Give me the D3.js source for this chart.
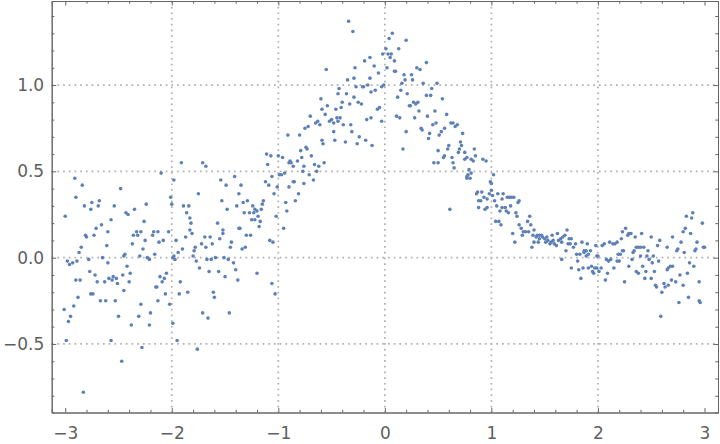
<!DOCTYPE html>
<html>
<head>
<meta charset="utf-8">
<script src="https://cdn.jsdelivr.net/npm/d3@7"></script>
<style>
  body { margin: 0; background: #fff; }
  svg text { font-family: "DejaVu Sans", sans-serif; }
</style>
</head>
<body>
<script>
// tick and grid values
const xTicks = [-3, -2, -1, 0, 1, 2, 3];
const yTicks = [-0.5, 0, 0.5, 1.0];
const xGrid = [-2, -1, 0, 1, 2];
const yGrid = [-0.5, 0, 0.5, 1.0];

// points, [x, y], grouped left to right
const farLeft = [
  [-2.91,0.46],[-2.84,0.42],[-2.90,0.35],[-2.48,0.40],[-3.00,0.24],[-2.82,0.30],[-2.76,0.28],[-2.75,0.32],
  [-2.69,0.30],[-2.68,0.33],[-2.54,0.30],[-2.43,0.26],[-2.41,0.25],[-2.35,0.28],[-2.24,0.31],[-2.71,0.17],
  [-2.66,0.19],[-2.57,0.22],[-2.26,0.21],[-2.81,0.13],[-2.80,0.12],[-2.73,0.13],[-2.60,0.15],[-2.33,0.15],
  [-2.36,0.13],[-2.32,0.13],[-2.29,0.15],[-2.17,0.15],[-2.18,0.13],[-2.13,0.15],[-2.25,0.10],[-2.12,0.09],
  [-2.37,0.08],[-2.85,0.06],[-2.61,0.07],[-2.27,0.05],[-2.87,0.03],[-2.44,0.02],[-2.45,0.01],[-2.30,0.01],
  [-2.16,0.02],[-2.23,0.00],[-2.21,-0.01],[-2.78,-0.01],[-2.65,0.00],[-2.98,-0.02],[-2.96,-0.04],[-2.93,-0.03],
  [-2.89,-0.02],[-2.60,-0.03],[-2.42,-0.05],[-2.77,-0.08],[-2.39,-0.09],[-2.72,-0.10],[-2.59,-0.12],[-2.55,-0.11],
  [-2.56,-0.13],[-2.52,-0.12],[-2.51,-0.15],[-2.46,-0.10],[-2.90,-0.13],[-2.86,-0.13],[-2.70,-0.14],[-2.63,-0.14],
  [-2.40,-0.14],[-2.45,-0.19],[-2.11,-0.11],[-2.15,-0.17],[-2.14,-0.17],[-2.76,-0.21],[-2.74,-0.21],[-2.88,-0.23],
  [-2.67,-0.25],[-2.62,-0.25],[-2.53,-0.25],[-2.13,-0.25],[-3.01,-0.30],[-2.92,-0.28],[-2.29,-0.27],[-2.95,-0.34],
  [-2.97,-0.37],[-2.50,-0.34],[-2.31,-0.34],[-2.20,-0.32],[-2.38,-0.39],[-2.21,-0.39],[-2.99,-0.48],[-2.57,-0.48],
  [-2.28,-0.52],[-2.47,-0.60],[-2.83,-0.78]
];

const leftBand = [
  [-2.10,0.49],[-1.91,0.55],[-1.71,0.55],[-1.68,0.53],[-1.11,0.60],[-1.98,0.45],[-1.54,0.45],[-1.41,0.47],
  [-1.49,0.42],[-1.35,0.42],[-1.12,0.44],[-2.01,0.35],[-1.75,0.37],[-1.37,0.37],[-2.00,0.31],[-1.89,0.30],
  [-1.84,0.30],[-1.53,0.33],[-1.33,0.32],[-1.29,0.33],[-1.39,0.30],[-1.48,0.28],[-1.14,0.33],[-1.15,0.31],
  [-1.24,0.30],[-1.16,0.28],[-1.22,0.28],[-1.20,0.27],[-1.86,0.26],[-1.32,0.26],[-1.27,0.26],[-1.23,0.26],
  [-1.19,0.24],[-1.83,0.23],[-1.82,0.20],[-1.57,0.20],[-1.25,0.22],[-1.22,0.22],[-1.17,0.21],[-1.18,0.18],
  [-1.83,0.16],[-1.37,0.17],[-1.36,0.17],[-1.52,0.16],[-1.52,0.14],[-2.03,0.15],[-1.81,0.14],[-1.87,0.12],
  [-1.69,0.12],[-1.64,0.12],[-1.55,0.11],[-1.30,0.13],[-1.26,0.13],[-2.08,0.10],[-1.96,0.10],[-1.44,0.09],
  [-1.72,0.08],[-1.62,0.08],[-1.78,0.06],[-1.68,0.06],[-1.45,0.06],[-1.34,0.05],[-1.31,0.06],[-1.90,0.05],
  [-1.79,0.04],[-1.94,0.03],[-1.80,0.01],[-1.98,0.01],[-1.99,0.00],[-1.97,-0.01],[-1.77,-0.02],[-1.67,-0.01],
  [-1.63,-0.01],[-1.59,0.00],[-1.51,0.00],[-1.47,-0.01],[-1.42,-0.03],[-1.74,-0.06],[-1.65,-0.08],[-1.56,-0.08],
  [-1.40,-0.07],[-2.05,-0.09],[-1.50,-0.11],[-1.38,-0.13],[-1.20,-0.09],[-2.07,-0.12],[-2.09,-0.14],[-1.92,-0.14],
  [-2.06,-0.21],[-1.93,-0.21],[-1.85,-0.20],[-1.61,-0.20],[-1.60,-0.23],[-2.02,-0.27],[-1.71,-0.32],[-1.66,-0.35],
  [-1.46,-0.32],[-1.99,-0.38],[-1.95,-0.48],[-1.76,-0.53]
];

const risingEdge = [
  [-1.10,0.54],[-1.09,0.42],[-1.08,0.10],[-1.05,0.09],[-1.07,0.59],[-1.00,0.59],[-0.96,0.58],[-1.06,0.47],
  [-0.99,0.48],[-0.97,0.48],[-0.94,0.49],[-0.90,0.55],[-0.89,0.56],[-0.88,0.55],[-0.86,0.53],[-0.82,0.56],
  [-0.78,0.58],[-0.79,0.62],[-0.76,0.53],[-0.77,0.50],[-0.69,0.59],[-0.74,0.64],[-0.73,0.63],[-0.91,0.71],
  [-0.80,0.71],[-0.75,0.75],[-0.72,0.76],[-0.70,0.82],[-0.65,0.78],[-0.63,0.79],[-0.61,0.77],[-0.60,0.92],
  [-0.59,0.86],[-0.56,0.83],[-0.54,0.88],[-0.44,0.95],[-0.36,0.95],[-0.29,0.93],[-0.40,0.90],[-0.41,0.87],
  [-0.46,0.86],[-0.33,0.89],[-0.25,0.90],[-0.22,0.89],[-0.13,0.96],[-0.52,0.79],[-0.50,0.80],[-0.48,0.78],
  [-0.45,0.81],[-0.44,0.79],[-0.42,0.81],[-0.39,0.77],[-0.32,0.77],[-0.48,0.73],[-0.31,0.73],[-0.17,0.80],
  [-0.13,0.81],[-0.59,0.68],[-0.58,0.66],[-0.47,0.68],[-0.37,0.67],[-0.26,0.66],[-0.24,0.70],[-0.18,0.68],
  [-0.12,0.65],[-0.57,0.55],[-0.66,0.54],[-0.62,0.53],[-0.64,0.50],[-0.71,0.48],[-0.67,0.45],[-0.76,0.43],
  [-0.86,0.44],[-0.85,0.44],[-0.90,0.41],[-0.81,0.37],[-1.04,0.37],[-1.01,0.41],[-0.93,0.32],[-0.84,0.33],
  [-0.92,0.27],[-1.02,0.24],[-0.95,0.17],[-1.06,-0.15],[-1.03,-0.21],
  [-0.34,1.37],[-0.30,1.31],[-0.55,1.09],[-0.19,1.14],[-0.28,1.10],[-0.35,1.03],[-0.29,1.04],[-0.43,0.98],
  [-0.27,0.99],[-0.21,0.99],[-0.20,0.99],[-0.16,1.00]
];

const crest = [
  [-0.14,1.16],[-0.14,1.04],[-0.10,1.11],[-0.06,1.07],[-0.02,1.18],[0.01,1.21],[0.02,1.10],[0.03,1.18],
  [0.05,1.16],[0.06,1.18],[0.04,1.27],[0.07,1.30],[0.09,1.14],[0.13,1.21],[0.20,1.26],[0.09,1.08],
  [0.10,1.08],[0.18,1.06],[0.25,1.06],[0.30,1.10],[0.33,1.09],[0.39,1.13],[0.19,1.03],[0.16,1.01],
  [0.26,1.03],[0.36,1.01],[0.49,1.01],[0.44,0.98],[0.43,0.94],[0.39,0.94],[0.15,0.97],[0.21,0.95],
  [0.12,0.93],[-0.03,0.99],[-0.01,1.00],[-0.09,0.97],[-0.07,0.86],[-0.05,0.87],[-0.03,0.79],[0.11,0.82],
  [0.14,0.81],[0.23,0.88],[0.24,0.88],[0.27,0.90],[0.29,0.89],[0.31,0.90],[0.32,0.85],[0.28,0.81],
  [0.20,0.73],[0.17,0.63],[0.40,0.82],[0.47,0.85],[0.54,0.92],[0.58,0.83],[0.45,0.77],[0.48,0.78],
  [0.34,0.75],[0.35,0.74],[0.42,0.72],[0.41,0.69],[0.51,0.71],[0.53,0.73],[0.56,0.75],[0.62,0.78],
  [0.64,0.78],[0.66,0.76],[0.68,0.77],[0.73,0.72],[0.60,0.65],[0.59,0.63],[0.50,0.62],[0.56,0.59],
  [0.55,0.58],[0.63,0.58],[0.64,0.55],[0.46,0.55],[0.50,0.55],[0.65,0.52],[0.71,0.67],[0.72,0.65],
  [0.69,0.61],[0.70,0.63],[0.75,0.61],[0.75,0.57],[0.77,0.58],[0.84,0.63],[0.85,0.59],[0.81,0.57],
  [0.83,0.56],[0.79,0.51],
  [0.78,0.48],[0.81,0.49],[0.77,0.47],[0.80,0.46],[0.77,0.46],[0.87,0.38],[0.86,0.37],[0.88,0.33],
  [0.88,0.29],[0.61,0.28]
];

const descent = [
  [0.92,0.57],[0.95,0.56],[1.02,0.48],[0.99,0.44],[1.00,0.43],[0.91,0.38],[0.90,0.33],[0.93,0.35],
  [0.96,0.34],[0.98,0.37],[1.00,0.39],[1.01,0.36],[1.06,0.37],[1.11,0.37],[1.03,0.33],[1.10,0.34],
  [1.15,0.35],[1.17,0.35],[1.19,0.35],[1.21,0.35],[1.25,0.32],[1.26,0.33],[0.94,0.28],[0.96,0.29],
  [1.05,0.30],[1.10,0.29],[1.13,0.29],[1.18,0.30],[1.08,0.27],[1.14,0.27],[1.16,0.26],[1.24,0.24],
  [1.23,0.26],[1.04,0.21],[1.07,0.21],[1.09,0.19],[1.34,0.21],[1.36,0.24],[1.37,0.19],[1.26,0.19],
  [1.28,0.17],[1.30,0.15],[1.32,0.15],[1.35,0.15],[1.29,0.13],[1.40,0.16],[1.20,0.14],[1.22,0.09],
  [1.39,0.13],[1.42,0.12],[1.43,0.13],[1.45,0.13],[1.47,0.13],[1.48,0.12],[1.45,0.11],[1.50,0.11],
  [1.52,0.12],[1.53,0.10],[1.51,0.09],[1.56,0.09],[1.57,0.13],[1.58,0.10],[1.40,0.09],[1.44,0.09],
  [1.38,0.06],[1.55,0.08],[1.59,0.08],[1.61,0.07],[1.62,0.14],[1.63,0.10],[1.65,0.11],[1.67,0.12],
  [1.69,0.13],[1.71,0.16],[1.66,0.09],[1.72,0.08],[1.73,0.11],[1.75,0.11],[1.74,0.08],[1.77,0.06],
  [1.79,0.08],[1.85,0.09],[1.87,0.03],[1.70,0.04],[1.80,0.02],[1.83,0.02],[1.66,-0.01],[1.81,-0.02],
  [1.86,-0.06],[1.75,-0.06],[1.82,-0.07],[1.84,-0.12]
];

const rightTail = [
  [1.90,0.08],[1.87,0.04],[1.89,0.04],[1.93,0.04],[1.91,0.02],[1.89,0.01],[1.98,0.07],[1.99,0.01],
  [2.00,0.01],[1.91,-0.06],[1.94,-0.05],[1.95,-0.08],[1.97,-0.06],[1.99,-0.06],[2.01,-0.08],[2.03,-0.06],
  [1.96,-0.09],[2.04,0.07],[2.06,0.08],[2.07,-0.13],[2.09,-0.09],[2.08,-0.01],[2.10,-0.02],[2.12,-0.01],
  [2.11,0.09],[2.14,0.08],[2.16,0.08],[2.18,0.09],[2.15,-0.06],[2.18,-0.02],[2.20,-0.02],[2.19,0.02],
  [2.21,0.02],[2.23,0.04],[2.24,0.04],[2.22,0.11],[2.23,0.15],[2.26,0.17],[2.28,0.13],[2.29,0.14],
  [2.31,0.14],[2.25,-0.14],[2.29,-0.05],[2.32,-0.01],[2.33,0.03],[2.34,0.04],[2.36,0.06],[2.38,0.06],
  [2.40,0.06],[2.35,0.12],[2.41,0.14],[2.36,-0.08],[2.38,-0.09],[2.40,0.01],[2.42,-0.05],[2.43,0.06],
  [2.44,-0.12],[2.45,-0.08],[2.46,0.01],[2.47,0.04],[2.48,-0.01],[2.50,-0.12],[2.50,0.12],[2.51,-0.03],
  [2.52,0.01],[2.53,-0.08],[2.56,0.07],[2.57,-0.02],[2.58,0.10],[2.54,-0.16],[2.55,-0.17],[2.60,-0.20],
  [2.59,-0.34],[2.62,-0.15],[2.63,-0.17],[2.66,-0.16],[2.65,-0.07],[2.66,-0.06],[2.68,-0.05],[2.70,-0.05],
  [2.65,0.06],[2.70,0.12],[2.69,-0.13],[2.73,-0.14],[2.74,0.04],[2.75,0.05],[2.78,0.09],[2.76,-0.26],
  [2.77,-0.10],[2.80,-0.16],[2.80,0.15],[2.82,0.17],[2.81,0.03],[2.83,0.24],[2.85,-0.23],[2.84,-0.09],
  [2.87,0.14],[2.88,0.23],[2.89,0.26],[2.86,-0.03],[2.90,-0.05],[2.91,0.04],[2.92,0.05],[2.93,0.09],
  [2.95,-0.14],[2.95,-0.25],[2.96,-0.26],[2.98,0.20],[2.99,0.06],[3.00,0.06]
];

const allPoints = farLeft.concat(leftBand, risingEdge, crest, descent, rightTail);

var width = 720,
    height = 444;
var plotLeft = 51.7, plotRight = 718, plotTop = 1, plotBottom = 412.5;

var x = d3.scaleLinear().domain([-3.127, 3.127]).range([plotLeft, plotRight]);
var y = d3.scaleLinear().domain([-0.897, 1.487]).range([plotBottom, plotTop]);

var svg = d3.select("body")
    .append("svg")
    .attr("width", width)
    .attr("height", height);

svg.append("rect").attr("width", width).attr("height", height).attr("fill", "#fff");

// dotted grid
var grid = svg.append("g")
    .attr("stroke", "#b0b0b0")
    .attr("stroke-width", 1.7)
    .attr("stroke-dasharray", "1.7,4");
grid.selectAll(".gx").data(xGrid).enter().append("line")
    .attr("x1", d => x(d)).attr("x2", d => x(d))
    .attr("y1", plotTop).attr("y2", plotBottom);
grid.selectAll(".gy").data(yGrid).enter().append("line")
    .attr("y1", d => y(d)).attr("y2", d => y(d))
    .attr("x1", plotLeft).attr("x2", plotRight);

// points
svg.append("g")
    .selectAll("circle")
    .data(allPoints)
    .enter().append("circle")
    .attr("cx", d => x(d[0]))
    .attr("cy", d => y(d[1]))
    .attr("r", 1.8)
    .attr("fill", "#5e81b5");

// frame axes, ticks point inward
var xMinor = d3.range(-3.0, 3.01, 0.2).filter(v => Math.abs(v - Math.round(v)) > 0.01);
var yMinor = d3.range(-0.8, 1.45, 0.1).filter(v => Math.abs(v * 2 - Math.round(v * 2)) > 0.01);
var fmtX = d3.format("d");
var fmtY = d3.format(".1f");

function styleAxis(g) {
    g.select(".domain").attr("stroke", "#666").attr("stroke-width", 1);
    g.selectAll(".tick line").attr("stroke", "#666");
    g.selectAll(".tick text").attr("fill", "#606060").attr("font-size", 17)
        .attr("font-family", "DejaVu Sans, sans-serif");
}

svg.append("g").attr("transform", `translate(0,${plotBottom})`)
    .call(d3.axisBottom(x).tickValues(xTicks).tickFormat(fmtX).tickSizeInner(-4.5).tickSizeOuter(0).tickPadding(14.5))
    .call(styleAxis);
svg.append("g").attr("transform", `translate(0,${plotBottom})`)
    .call(d3.axisBottom(x).tickValues(xMinor).tickSize(-2.7).tickFormat(""))
    .call(styleAxis);

svg.append("g").attr("transform", `translate(${plotLeft},0)`)
    .call(d3.axisLeft(y).tickValues(yTicks).tickFormat(fmtY).tickSizeInner(-4.5).tickSizeOuter(0).tickPadding(7.5))
    .call(styleAxis);
svg.append("g").attr("transform", `translate(${plotLeft},0)`)
    .call(d3.axisLeft(y).tickValues(yMinor).tickSize(-2.7).tickFormat(""))
    .call(styleAxis);

svg.append("g").attr("transform", `translate(0,${plotTop})`)
    .call(d3.axisTop(x).tickValues(xTicks).tickSizeInner(-4.5).tickSizeOuter(0).tickFormat(""))
    .call(styleAxis);
svg.append("g").attr("transform", `translate(0,${plotTop})`)
    .call(d3.axisTop(x).tickValues(xMinor).tickSize(-2.7).tickFormat(""))
    .call(styleAxis);

svg.append("g").attr("transform", `translate(${plotRight},0)`)
    .call(d3.axisRight(y).tickValues(yTicks).tickSizeInner(-4.5).tickSizeOuter(0).tickFormat(""))
    .call(styleAxis);
svg.append("g").attr("transform", `translate(${plotRight},0)`)
    .call(d3.axisRight(y).tickValues(yMinor).tickSize(-2.7).tickFormat(""))
    .call(styleAxis);
</script>
</body>
</html>
